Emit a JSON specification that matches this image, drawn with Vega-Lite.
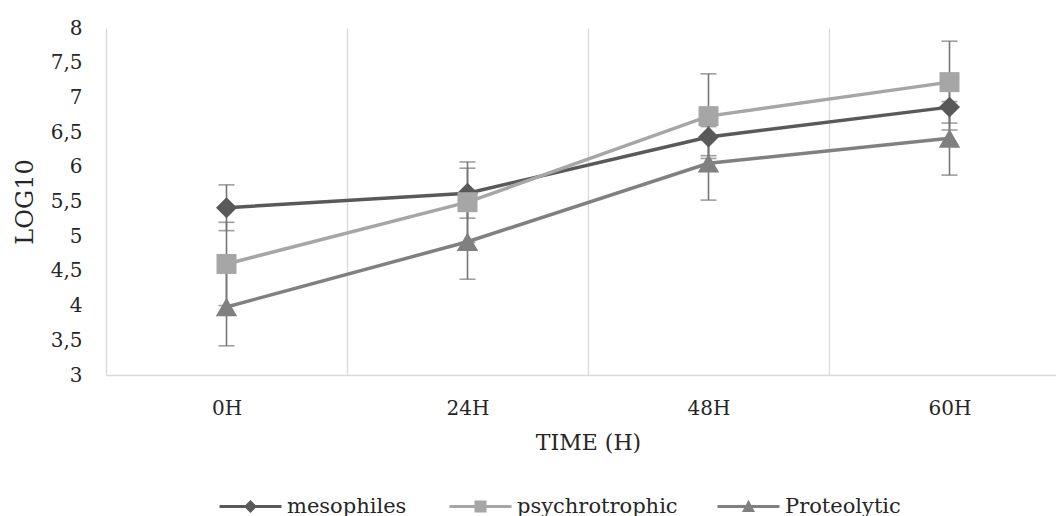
{
  "$schema": "https://vega.github.io/schema/vega-lite/v6.json",
  "autosize": {"type": "none"},
  "padding": {"left": 106, "top": 28, "right": 0, "bottom": 141},
  "width": 950,
  "height": 347,
  "background": "white",
  "config": {
    "view": {"stroke": null},
    "font": "DejaVu Serif",
    "locale": {"number": {"decimal": ",", "thousands": ".", "grouping": [3], "currency": ["", " €"]}},
    "axisY": {
      "title": "LOG10", "values": [3, 3.5, 4, 4.5, 5, 5.5, 6, 6.5, 7, 7.5, 8], "format": ".1~f", "tickCount": 11,
      "ticks": false, "domain": false, "grid": false, "labelOverlap": false, "labelFlush": false,
      "labelFont": "DejaVu Serif", "labelFontSize": 20, "labelColor": "#262626", "labelPadding": 24,
      "titleFont": "DejaVu Serif", "titleFontSize": 24, "titleFontWeight": "normal", "titleColor": "#262626",
      "titlePadding": 13
    }
  },
  "data": {
    "values": [
      {"series": "mesophiles", "time": "0H", "value": 5.41, "lo": 5.08, "hi": 5.74},
      {"series": "mesophiles", "time": "24H", "value": 5.62, "lo": 5.26, "hi": 5.98},
      {"series": "mesophiles", "time": "48H", "value": 6.43, "lo": 6.16, "hi": 6.70},
      {"series": "mesophiles", "time": "60H", "value": 6.86, "lo": 6.53, "hi": 7.19},
      {"series": "psychrotrophic", "time": "0H", "value": 4.60, "lo": 4.00, "hi": 5.20},
      {"series": "psychrotrophic", "time": "24H", "value": 5.49, "lo": 4.91, "hi": 6.07},
      {"series": "psychrotrophic", "time": "48H", "value": 6.73, "lo": 6.12, "hi": 7.34},
      {"series": "psychrotrophic", "time": "60H", "value": 7.22, "lo": 6.63, "hi": 7.81},
      {"series": "Proteolytic", "time": "0H", "value": 3.98, "lo": 3.42, "hi": 4.54},
      {"series": "Proteolytic", "time": "24H", "value": 4.92, "lo": 4.38, "hi": 5.46},
      {"series": "Proteolytic", "time": "48H", "value": 6.05, "lo": 5.52, "hi": 6.58},
      {"series": "Proteolytic", "time": "60H", "value": 6.41, "lo": 5.88, "hi": 6.94}
    ]
  },
  "encoding": {
    "x": {
      "field": "time", "type": "nominal", "sort": ["0H", "24H", "48H", "60H"],
      "scale": {"type": "band", "range": [0, 964], "paddingInner": 0, "paddingOuter": 0},
      "axis": {
        "title": "TIME (H)", "labelAngle": 0, "ticks": false, "grid": true, "tickBand": "extent",
        "gridColor": "#d9d9d9", "gridWidth": 1.3, "domainColor": "#d9d9d9", "domainWidth": 1.3,
        "labelFont": "DejaVu Serif", "labelFontSize": 20, "labelColor": "#262626", "labelPadding": 23,
        "titleFont": "DejaVu Serif", "titleFontSize": 22, "titleFontWeight": "normal", "titleColor": "#262626",
        "titlePadding": 14, "titleX": 482
      }
    }
  },
  "resolve": {"scale": {"shape": "independent"}, "legend": {"shape": "independent"}},
  "layer": [
    {
      "mark": {"type": "rule", "color": "#767676", "strokeWidth": 1.6},
      "encoding": {
        "y": {"field": "lo", "type": "quantitative", "title": "LOG10", "scale": {"domain": [3, 8], "nice": false}},
        "y2": {"field": "hi"}
      }
    },
    {
      "mark": {"type": "tick", "color": "#767676", "thickness": 1.6, "size": 16, "orient": "horizontal"},
      "encoding": {"y": {"field": "lo", "type": "quantitative", "title": "LOG10"}}
    },
    {
      "mark": {"type": "tick", "color": "#767676", "thickness": 1.6, "size": 16, "orient": "horizontal"},
      "encoding": {"y": {"field": "hi", "type": "quantitative", "title": "LOG10"}}
    },
    {
      "mark": {"type": "line", "strokeWidth": 3.5},
      "encoding": {
        "y": {"field": "value", "type": "quantitative", "title": "LOG10"},
        "color": {
          "field": "series", "type": "nominal", "legend": null,
          "scale": {"domain": ["mesophiles", "psychrotrophic", "Proteolytic"], "range": ["#595959", "#a6a6a6", "#808080"]}
        }
      }
    },
    {
      "transform": [{"filter": "datum.series === 'mesophiles'"}],
      "mark": {"type": "point", "filled": true, "opacity": 1, "size": 440, "shape": "diamond"},
      "encoding": {
        "y": {"field": "value", "type": "quantitative", "title": "LOG10"},
        "color": {"field": "series", "type": "nominal", "legend": null}
      }
    },
    {
      "transform": [{"filter": "datum.series === 'psychrotrophic'"}],
      "mark": {"type": "point", "filled": true, "opacity": 1, "size": 400, "shape": "square"},
      "encoding": {
        "y": {"field": "value", "type": "quantitative", "title": "LOG10"},
        "color": {"field": "series", "type": "nominal", "legend": null}
      }
    },
    {
      "transform": [{"filter": "datum.series === 'Proteolytic'"}],
      "mark": {"type": "point", "filled": true, "opacity": 1, "size": 460, "shape": "triangle-up"},
      "encoding": {
        "y": {"field": "value", "type": "quantitative", "title": "LOG10"},
        "color": {"field": "series", "type": "nominal", "legend": null}
      }
    },
    {
      "transform": [{"filter": "datum.series === 'mesophiles'"}],
      "mark": {"type": "point", "filled": true, "opacity": 0, "size": 10, "color": "#595959"},
      "encoding": {
        "y": {"field": "value", "type": "quantitative", "title": "LOG10"},
        "shape": {
          "field": "series", "type": "nominal", "title": null,
          "scale": {"domain": ["mesophiles"], "range": ["M-4.43,-0.21H4.43V0.21H-4.43Z M0,-0.93L0.93,0L0,0.93L-0.93,0Z"]},
          "legend": {
            "orient": "none", "legendX": 134, "legendY": 468, "direction": "horizontal", "title": null, "labelLimit": 400,
            "symbolSize": 196, "symbolOpacity": 1, "symbolStrokeWidth": 0, "symbolFillColor": "#595959", "labelOffset": 26,
            "labelFont": "DejaVu Serif", "labelFontSize": 21, "labelColor": "#262626", "padding": 0
          }
        }
      }
    },
    {
      "transform": [{"filter": "datum.series === 'psychrotrophic'"}],
      "mark": {"type": "point", "filled": true, "opacity": 0, "size": 10, "color": "#a6a6a6"},
      "encoding": {
        "y": {"field": "value", "type": "quantitative", "title": "LOG10"},
        "shape": {
          "field": "series", "type": "nominal", "title": null,
          "scale": {"domain": ["psychrotrophic"], "range": ["M-4.43,-0.21H4.43V0.21H-4.43Z M-0.86,-0.86H0.86V0.86H-0.86Z"]},
          "legend": {
            "orient": "none", "legendX": 364, "legendY": 468, "direction": "horizontal", "title": null, "labelLimit": 400,
            "symbolSize": 196, "symbolOpacity": 1, "symbolStrokeWidth": 0, "symbolFillColor": "#a6a6a6", "labelOffset": 26,
            "labelFont": "DejaVu Serif", "labelFontSize": 21, "labelColor": "#262626", "padding": 0
          }
        }
      }
    },
    {
      "transform": [{"filter": "datum.series === 'Proteolytic'"}],
      "mark": {"type": "point", "filled": true, "opacity": 0, "size": 10, "color": "#808080"},
      "encoding": {
        "y": {"field": "value", "type": "quantitative", "title": "LOG10"},
        "shape": {
          "field": "series", "type": "nominal", "title": null,
          "scale": {"domain": ["Proteolytic"], "range": ["M-4.43,-0.21H4.43V0.21H-4.43Z M0,-0.95L0.93,0.8L-0.93,0.8Z"]},
          "legend": {
            "orient": "none", "legendX": 632, "legendY": 468, "direction": "horizontal", "title": null, "labelLimit": 400,
            "symbolSize": 196, "symbolOpacity": 1, "symbolStrokeWidth": 0, "symbolFillColor": "#808080", "labelOffset": 26,
            "labelFont": "DejaVu Serif", "labelFontSize": 21, "labelColor": "#262626", "padding": 0
          }
        }
      }
    }
  ]
}
